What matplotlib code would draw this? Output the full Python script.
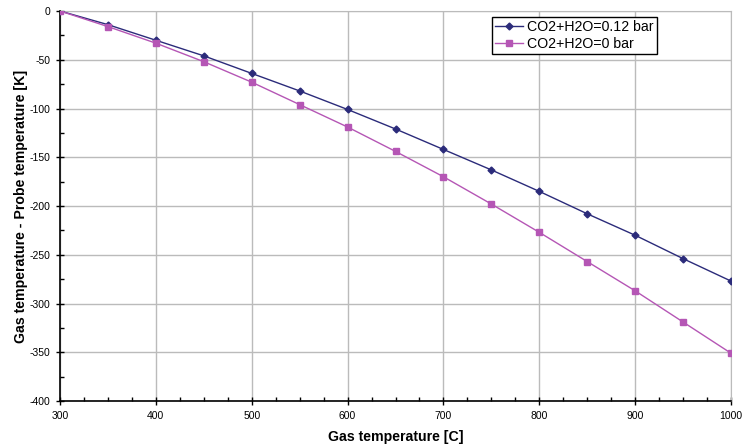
import numpy as np
import matplotlib.pyplot as plt
from matplotlib.ticker import MultipleLocator

plt.rcParams['font.family'] = ['Liberation Sans', 'DejaVu Sans']
plt.rcParams['axes.unicode_minus'] = False

# gas temperature [C]
gas_temp = [300, 350, 400, 450, 500, 550, 600, 650, 700, 750, 800, 850, 900, 950, 1000]
# temperature difference for both cases [K]
diff_012 = [0, -14, -30, -46, -64, -82, -101, -121, -142, -163, -185, -208, -230, -254, -277]
diff_0 = [0, -16, -33, -52, -73, -96, -119, -144, -170, -198, -227, -257, -287, -319, -351]

fig = plt.figure(figsize=(7.42, 4.46), dpi=100)
ax = fig.add_axes([60/742, 45/446, 671/742, 390/446])

ax.plot(gas_temp, diff_012, color='#2B2B7A', lw=1, marker='D', ms=3.5,
        label='CO2+H2O=0.12 bar', zorder=3)
ax.plot(gas_temp, diff_0, color='#B556B5', lw=1, marker='s', ms=4.5,
        label='CO2+H2O=0 bar', zorder=3)

ax.set_xlim(300, 1000)
ax.set_ylim(-400, 0)
ax.xaxis.set_major_locator(MultipleLocator(100))
ax.xaxis.set_minor_locator(MultipleLocator(25))
ax.yaxis.set_major_locator(MultipleLocator(50))
ax.yaxis.set_minor_locator(MultipleLocator(25))
ax.grid(True, which='major', color='#BBBBBB', lw=1)
ax.set_axisbelow(True)

# tick styles similar to excel
ax.tick_params(which='major', direction='inout', length=6, width=1, labelsize=7.5, pad=4)
ax.tick_params(which='minor', direction='in', length=3, width=1)
for s in ['top', 'right']:
    ax.spines[s].set_color('#BBBBBB')
for s in ['left', 'bottom']:
    ax.spines[s].set_linewidth(1.2)

ax.set_xlabel('Gas temperature [C]', fontsize=10.2, fontweight='bold', labelpad=7)
ax.set_ylabel('Gas temperature - Probe temperature [K]', fontsize=10.2, fontweight='bold', labelpad=1)

leg = ax.legend(loc='upper left', bbox_to_anchor=(492/742, 1 - 17/446),
                bbox_transform=fig.transFigure, fontsize=10.2, fancybox=False,
                framealpha=1, edgecolor='black', borderpad=0.2, labelspacing=0.2,
                handlelength=2, handletextpad=0.3, borderaxespad=0)
leg.get_frame().set_linewidth(1)

fig.savefig('out.png', dpi=100)
